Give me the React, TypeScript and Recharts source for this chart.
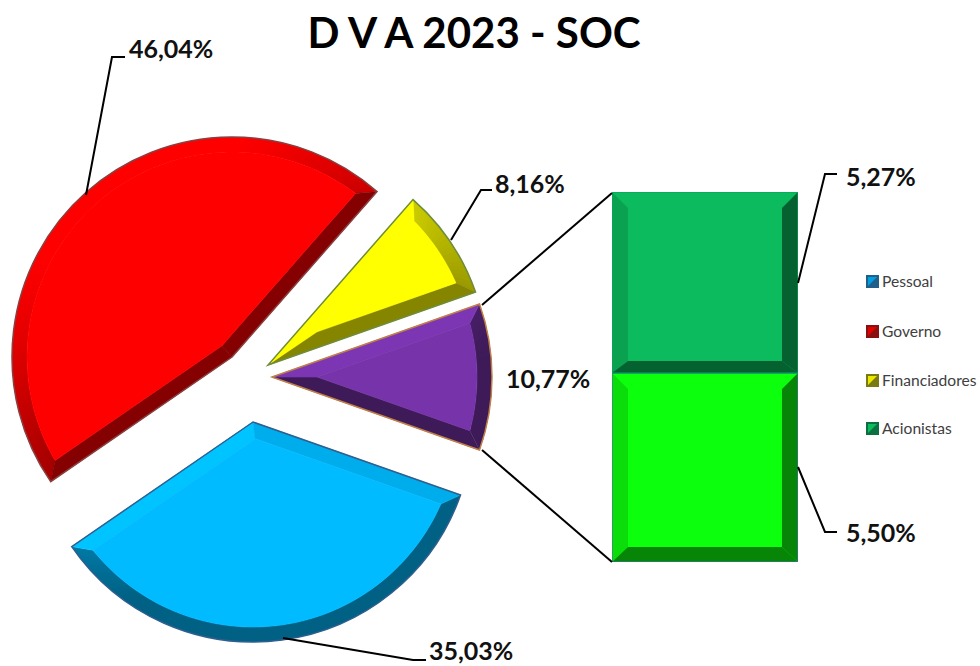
import React from "react";
import { PieChart, Pie, BarChart, Bar, XAxis, YAxis, Legend } from "recharts";

const FONT = "Lato, 'Open Sans', sans-serif";

// ---- data ----
const TITLE = "D V A 2023 - SOC";
const sliceNames = ["Outros", "Financiadores", "Governo", "Pessoal"];
const sliceValues = [10.77, 8.16, 46.04, 35.03];
const barValues = { lower: 5.5, upper: 5.27 };
const legendNames = ["Pessoal", "Governo", "Financiadores", "Acionistas"];

// ---- styling and layout ----
const sliceColors = ["#7733AA", "#FFFF00", "#FF0000", "#00BBFF"];
const sliceBorders = ["#C08048", "#6F8C3A", "#8A4040", "#2F5F8F"];
const sliceCenters = [
  { cx: 272, cy: 377 },
  { cx: 268, cy: 365 },
  { cx: 232, cy: 357 },
  { cx: 253, cy: 422 },
];
const RADIUS = 220;
const START_ANGLE = -19.39;
const BEVEL = 15;
const legendColors = ["#00A0E0", "#E00000", "#E8E800", "#0BBB5E"];
const legendDark = ["#1F5F8A", "#8A1010", "#7A7A10", "#0A7040"];
const legendTops = [13, 63, 112, 160];

const barData = [{ name: "Acionistas", lower: barValues.lower, upper: barValues.upper }];
const fmt = (v: number) => v.toFixed(2).replace(".", ",") + "%";

const leaders = [
  { pts: "86,195 112,57 125,57", text: fmt(sliceValues[2]), x: 129, y: 58 },
  { pts: "451,240 481,190 492,190", text: fmt(sliceValues[1]), x: 495, y: 193 },
  { pts: "", text: fmt(sliceValues[0]), x: 506, y: 388 },
  { pts: "798,283 825,174 837,174", text: fmt(barValues.upper), x: 846, y: 186 },
  { pts: "798,467 825,532 837,532", text: fmt(barValues.lower), x: 846, y: 542 },
  { pts: "283,638 413,660 426,660", text: fmt(sliceValues[3]), x: 429, y: 660 },
];
const connectors = ["482,305 612,193", "482,450 612,562"];

// ---- shading helpers ----
function shade(hex: string, f: number) {
  const n = parseInt(hex.slice(1), 16);
  const ch = [(n >> 16) & 255, (n >> 8) & 255, n & 255].map((c) =>
    Math.min(255, Math.round(c * f))
  );
  return `rgb(${ch[0]},${ch[1]},${ch[2]})`;
}
// facet brightness from its outward normal (light comes from the upper left)
function lightFactor(normalDeg: number) {
  const d = Math.cos(((normalDeg - 120) * Math.PI) / 180);
  if (d >= 0.95) return 1.05;
  if (d >= 0.85) return 1;
  if (d <= -0.4) return 0.52;
  return 0.52 + ((d + 0.4) / 1.25) * 0.48;
}

function makeSliceShape(color: string, border: string) {
  return function SliceShape(props: any) {
    const { cx, cy, outerRadius: R, startAngle, endAngle } = props;
    const a0 = Math.min(startAngle, endAngle);
    const a1 = Math.max(startAngle, endAngle);
    const pt = (r: number, deg: number) => [
      cx + r * Math.cos((deg * Math.PI) / 180),
      cy - r * Math.sin((deg * Math.PI) / 180),
    ];
    const half = (a1 - a0) / 2;
    const mid = (a0 + a1) / 2;
    const apex = [cx, cy];
    const innerApex = pt(BEVEL / Math.sin((half * Math.PI) / 180), mid);
    const r2 = R - BEVEL;
    const delta = (Math.asin(BEVEL / r2) * 180) / Math.PI;
    const in0 = a0 + delta;
    const in1 = a1 - delta;
    const poly = (pts: number[][]) => pts.map((p) => p[0].toFixed(2) + "," + p[1].toFixed(2)).join(" ");
    const segs = Math.max(6, Math.ceil((a1 - a0) / 1.5));
    const arcPieces = [];
    for (let i = 0; i < segs; i++) {
      const t0 = i / segs;
      // each piece runs on under the next one, so no seam shows between them
      const t1 = Math.min(1, (i + 2) / segs);
      const oa = a0 + (a1 - a0) * t0;
      const ob = a0 + (a1 - a0) * t1;
      const ia = in0 + (in1 - in0) * t0;
      const ib = in0 + (in1 - in0) * t1;
      const arcMid = a0 + ((a1 - a0) * (i + 0.5)) / segs;
      const c = shade(color, Math.min(1, lightFactor(arcMid)));
      arcPieces.push(
        <polygon key={i} points={poly([pt(R, oa), pt(R, ob), pt(r2, ib), pt(r2, ia)])} fill={c} />
      );
    }
    const large = a1 - a0 > 180 ? 1 : 0;
    const o0 = pt(R, a0);
    const o1 = pt(R, a1);
    const i0 = pt(r2, in0);
    const i1 = pt(r2, in1);
    const faceSteps = [];
    for (let i = 0; i <= segs; i++) faceSteps.push(pt(r2, in0 + ((in1 - in0) * i) / segs));
    const lowC = shade(color, lightFactor(a0 - 90));
    const highC = shade(color, lightFactor(a1 + 90));
    return (
      <g>
        {arcPieces}
        <polygon points={poly([apex, o0, i0, innerApex])} fill={lowC} stroke={lowC} strokeWidth={0.6} />
        <polygon points={poly([apex, o1, i1, innerApex])} fill={highC} stroke={highC} strokeWidth={0.6} />
        <polygon points={poly([innerApex, ...faceSteps])} fill={color} stroke={color} strokeWidth={0.6} />
        <path
          d={`M${apex[0]},${apex[1]} L${o0[0]},${o0[1]} A${R},${R} 0 ${large} 0 ${o1[0]},${o1[1]} Z`}
          fill="none"
          stroke={border}
          strokeWidth={1.5}
          strokeLinejoin="miter"
        />
      </g>
    );
  };
}

function makeBarShape(color: string, border: string, bottomBevel: number) {
  return function BarShape(props: any) {
    const { x, y, width: w, height: h } = props;
    const b = 16;
    const r = x + w;
    const btm = y + h;
    const ib = btm - bottomBevel;
    const ir = r - b;
    const il = x + b;
    const it = y + b;
    return (
      <g>
        <rect x={x} y={y} width={w} height={h} fill={color} />
        <polygon points={`${x},${y} ${r},${y} ${ir},${it} ${il},${it}`} fill={shade(color, lightFactor(90))} />
        <polygon points={`${x},${y} ${il},${it} ${il},${ib} ${x},${btm}`} fill={shade(color, lightFactor(180))} />
        <polygon points={`${r},${y} ${r},${btm} ${ir},${ib} ${ir},${it}`} fill={shade(color, lightFactor(0))} />
        <polygon points={`${x},${btm} ${il},${ib} ${ir},${ib} ${r},${btm}`} fill={shade(color, lightFactor(270))} />
        <rect x={x} y={y} width={w} height={h} fill="none" stroke={border} strokeWidth={1.2} />
      </g>
    );
  };
}

function LegendBox() {
  return (
    <div style={{ position: "relative", width: 120, height: 190, fontFamily: FONT }}>
      {legendNames.map((name, i) => (
        <div key={name} style={{ position: "absolute", left: 0, top: legendTops[i], display: "flex", alignItems: "center" }}>
          <svg width={13} height={13} style={{ display: "block" }}>
            <rect x={0} y={0} width={13} height={13} fill={legendDark[i]} />
            <polygon points="2,2 11,2 2,11" fill={legendColors[i]} />
          </svg>
          <span style={{ marginLeft: 3, fontSize: 15.6, lineHeight: "16px", color: "#404040", whiteSpace: "nowrap" }}>{name}</span>
        </div>
      ))}
    </div>
  );
}

let cumulative = START_ANGLE;
const sliceAngles = sliceValues.map((v) => {
  const start = cumulative;
  cumulative += (v / 100) * 360;
  return { start, end: cumulative };
});

export default function App() {
  return (
    <div style={{ position: "absolute", left: 0, top: 0, width: 980, height: 666, background: "#fff", overflow: "hidden" }}>
      <div style={{ position: "absolute", left: 0, top: 0 }}>
        <PieChart width={980} height={666} margin={{ top: 0, right: 0, bottom: 0, left: 0 }}>
          {sliceNames.map((name, i) => (
            <Pie
              key={name}
              data={[{ name, value: sliceValues[i] }]}
              dataKey="value"
              nameKey="name"
              cx={sliceCenters[i].cx}
              cy={sliceCenters[i].cy}
              innerRadius={0}
              outerRadius={RADIUS}
              startAngle={sliceAngles[i].start}
              endAngle={sliceAngles[i].end}
              paddingAngle={0}
              stroke="none"
              fill={sliceColors[i]}
              isAnimationActive={false}
              shape={makeSliceShape(sliceColors[i], sliceBorders[i])}
            />
          ))}
          <Legend
            content={<LegendBox />}
            wrapperStyle={{ position: "absolute", left: 866, top: 260, width: 114, height: 190, bottom: "auto", right: "auto" }}
          />
        </PieChart>
      </div>
      <div style={{ position: "absolute", left: 612, top: 192 }}>
        <BarChart width={186} height={370} data={barData} margin={{ top: 0, right: 0, bottom: 0, left: 0 }} barCategoryGap={0} stackOffset="none">
          <XAxis dataKey="name" hide />
          <YAxis hide domain={[0, barValues.lower + barValues.upper]} />
          <Bar dataKey="lower" stackId="a" isAnimationActive={false} fill="#0CFF0C" shape={makeBarShape("#0CFF0C", "#3A7A9A", 15)} />
          <Bar dataKey="upper" stackId="a" isAnimationActive={false} fill="#0BBB5E" shape={makeBarShape("#0BBB5E", "#0BA060", 12)} />
        </BarChart>
      </div>
      <svg width={980} height={666} style={{ position: "absolute", left: 0, top: 0, pointerEvents: "none" }}>
        {connectors.map((p) => (
          <polyline key={p} points={p} fill="none" stroke="#000" strokeWidth={2} />
        ))}
        {leaders.map((l) => (
          <g key={l.text}>
            {l.pts && <polyline points={l.pts} fill="none" stroke="#000" strokeWidth={2} />}
            <text x={l.x} y={l.y} fontFamily={FONT} fontWeight={700} fontSize={25} fill="#111">{l.text}</text>
          </g>
        ))}
        <text x={474} y={48} textAnchor="middle" fontFamily={FONT} fontWeight={700} fontSize={42} fill="#000">{TITLE}</text>
      </svg>
    </div>
  );
}
